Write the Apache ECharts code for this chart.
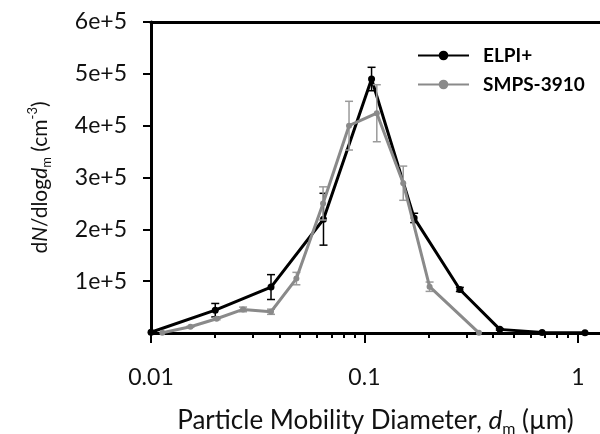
<!DOCTYPE html>
<html>
<head>
<meta charset="utf-8">
<script src="https://cdn.jsdelivr.net/npm/echarts@6/dist/echarts.min.js"></script>
<style>
  html, body { margin: 0; padding: 0; background: #fff; }
  #chart { width: 600px; height: 434px; }
</style>
</head>
<body>
<div id="chart"></div>
<script>
// Velikostní distribuce částic: ELPI+ vs SMPS-3910 (log osa x)

const elpiD = [0.01, 0.02, 0.0365, 0.0643, 0.108, 0.171, 0.28, 0.431, 0.68, 1.08];
const elpiN = [1500, 44000, 88600, 219500, 490000, 222000, 84000, 7000, 1000, 300];
const elpiErr = [0, 13000, 24000, 50000, 22600, 9000, 4000, 1500, 0, 0];

const smpsD = [0.0113, 0.0153, 0.0203, 0.027, 0.0365, 0.048, 0.064, 0.0847, 0.1143, 0.152, 0.202, 0.344];
const smpsN = [500, 12000, 27500, 45500, 41000, 105000, 250000, 400000, 424000, 289000, 89300, 300];
const smpsErr = [0, 1000, 2000, 4500, 5000, 12000, 32000, 47000, 55000, 33000, 9000, 0];

const majorTicks = [0.01, 0.1, 1];
const minorTicks = [0.02, 0.03, 0.04, 0.05, 0.06, 0.07, 0.08, 0.09,
                    0.2, 0.3, 0.4, 0.5, 0.6, 0.7, 0.8, 0.9];
const yTicks = [100000, 200000, 300000, 400000, 500000, 600000];

const X_MIN = 0.01;
const X_MAX = 1.27;
const FONT = 'Lato, sans-serif';

const chart = echarts.init(document.getElementById('chart'));

function zip3(a, b, c) {
  return a.map((v, i) => [v, b[i], c[i]]);
}

function errorBars(color, width) {
  return function (params, api) {
    const x = api.value(0), y = api.value(1), e = api.value(2);
    if (!e) return null;
    const top = api.coord([x, y + e]);
    const bot = api.coord([x, y - e]);
    const cap = 4;
    const style = { stroke: color, lineWidth: width };
    return {
      type: 'group',
      children: [
        { type: 'line', shape: { x1: top[0], y1: top[1], x2: bot[0], y2: bot[1] }, style },
        { type: 'line', shape: { x1: top[0] - cap, y1: top[1], x2: top[0] + cap, y2: top[1] }, style },
        { type: 'line', shape: { x1: bot[0] - cap, y1: bot[1], x2: bot[0] + cap, y2: bot[1] }, style },
      ],
    };
  };
}

function nameRich(size) {
  const small = Math.round(size * 0.62);
  return {
    a: { fontFamily: FONT, fontSize: size, color: '#111' },
    i: { fontFamily: FONT, fontSize: size, fontStyle: 'italic', color: '#111' },
    sub: { fontFamily: FONT, fontSize: small, color: '#111', padding: [Math.round(size * 0.6), 0, 0, 0] },
    sup: { fontFamily: FONT, fontSize: small, color: '#111', padding: [0, 0, Math.round(size * 0.7), 0] },
  };
}

const logAxisBase = { type: 'log', logBase: 10, min: X_MIN, max: X_MAX, splitLine: { show: false } };

const option = {
  animation: false,
  backgroundColor: '#fff',
  textStyle: { fontFamily: FONT },
  grid: { left: 151, right: 0, top: 22, bottom: 101, containLabel: false, outerBoundsMode: 'none' },
  legend: {
    orient: 'vertical',
    left: 417,
    top: 46,
    padding: 0,
    itemWidth: 51,
    itemHeight: 12,
    itemGap: 10,
    formatter: name => '{g|}{n|' + name + '}',
    textStyle: {
      rich: {
        g: { width: 9 },
        n: { fontFamily: FONT, fontWeight: 'bold', fontSize: 19, color: '#000' },
      },
    },
    data: ['ELPI+', 'SMPS-3910'],
  },
  xAxis: [
    Object.assign({}, logAxisBase, {
      position: 'bottom',
      name: '{a|Particle Mobility Diameter, }{i|d}{sub|m}{a| (µm)}',
      nameLocation: 'middle',
      nameGap: 72,
      nameTextStyle: { fontFamily: FONT, fontSize: 26, color: '#111', rich: nameRich(26) },
      axisLine: { lineStyle: { color: '#000', width: 3 } },
      axisTick: { show: true, customValues: majorTicks, length: 10, inside: false, lineStyle: { color: '#000', width: 2 } },
      axisLabel: {
        customValues: majorTicks,
        margin: 33,
        fontFamily: FONT,
        fontSize: 23,
        color: '#111',
        formatter: v => String(+v.toPrecision(3)),
      },
    }),
    Object.assign({}, logAxisBase, {
      position: 'bottom',
      axisLine: { show: false },
      axisTick: { show: true, customValues: minorTicks, length: 5, lineStyle: { color: '#000', width: 2 } },
      axisLabel: { show: false },
    }),
    Object.assign({}, logAxisBase, {
      position: 'top',
      axisLine: { lineStyle: { color: '#000', width: 3 } },
      axisTick: { show: false },
      axisLabel: { show: false },
    }),
  ],
  yAxis: {
    type: 'value',
    min: 0,
    max: 600000,
    interval: 100000,
    name: '{a|d}{i|N}{a|/dlog}{i|d}{sub|m}{a| (cm}{sup|-3}{a|)}',
    nameLocation: 'middle',
    nameGap: 97,
    nameTextStyle: { fontFamily: FONT, fontSize: 21, color: '#111', rich: nameRich(21) },
    splitLine: { show: false },
    axisLine: { show: true, lineStyle: { color: '#000', width: 3 } },
    axisTick: { show: true, customValues: yTicks, length: 8, lineStyle: { color: '#000', width: 2 } },
    axisLabel: {
      customValues: yTicks,
      margin: 24,
      fontFamily: FONT,
      fontSize: 23,
      color: '#111',
      formatter: v => (v / 100000) + 'e+5',
    },
  },
  series: [
    {
      type: 'custom',
      name: 'elpiErr',
      renderItem: errorBars('#000', 1.5),
      data: zip3(elpiD, elpiN, elpiErr),
      clip: false,
      z: 3,
    },
    {
      name: 'ELPI+',
      type: 'line',
      data: elpiD.map((d, i) => [d, elpiN[i]]),
      symbol: 'circle',
      symbolSize: 7,
      lineStyle: { color: '#000', width: 3 },
      itemStyle: { color: '#000' },
      z: 4,
    },
    {
      type: 'custom',
      name: 'smpsErr',
      renderItem: errorBars('#9a9a9a', 1.5),
      data: zip3(smpsD, smpsN, smpsErr),
      clip: false,
      z: 5,
    },
    {
      name: 'SMPS-3910',
      type: 'line',
      data: smpsD.map((d, i) => [d, smpsN[i]]),
      symbol: 'circle',
      symbolSize: 6,
      lineStyle: { color: '#8a8a8a', width: 3 },
      itemStyle: { color: '#8a8a8a' },
      z: 6,
    },
  ],
};

chart.setOption(option);
</script>
</body>
</html>
